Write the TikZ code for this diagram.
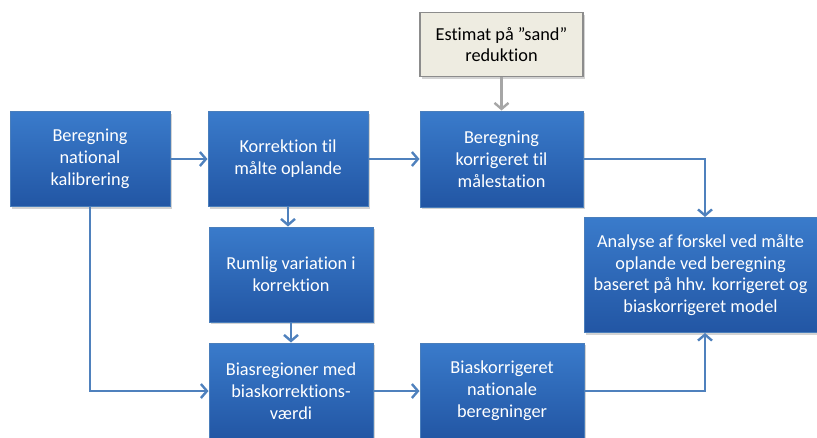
\documentclass[tikz,border=0pt]{standalone}
\usepackage{fontspec}
\setmainfont[Ligatures=NoCommon]{Carlito}
\usetikzlibrary{arrows.meta,shadows}
\definecolor{boxtop}{HTML}{3A7BCB}
\definecolor{boxbot}{HTML}{2256A4}
\definecolor{boxedge}{HTML}{4A7EBB}
\definecolor{arrowblue}{HTML}{4F81BD}
\definecolor{beige}{HTML}{EEECE1}
\definecolor{beigeedge}{HTML}{8C8C8C}
\definecolor{arrowgrey}{HTML}{A6A6A6}
\tikzset{
  bluebox/.style={draw=boxedge, line width=1pt, top color=boxtop, bottom color=boxbot,
    text=white, align=center, font=\fontsize{18.3}{21.8}\selectfont, inner sep=2pt,
    drop shadow={opacity=0.35, shadow xshift=1.5pt, shadow yshift=-2pt}},
  beigebox/.style={draw=beigeedge, line width=1.2pt, fill=beige,
    text=black, align=center, font=\fontsize{18.3}{21.8}\selectfont, inner sep=2pt,
    drop shadow={opacity=0.35, shadow xshift=1.5pt, shadow yshift=-2pt}},
  flow/.style={draw=arrowblue, line width=2.6pt, -{Straight Barb[length=6pt,width=14pt,line width=2.4pt]}},
  greyflow/.style={draw=arrowgrey, line width=2.6pt, -{Straight Barb[length=6pt,width=14pt,line width=2.4pt]}}
}
\begin{document}
\begin{tikzpicture}[x=1pt,y=-1pt]
\useasboundingbox (0,0) rectangle (817,437);
\node[bluebox, minimum width=160pt, minimum height=95pt] (A) at (90,159) {Beregning\\national\\kalibrering};
\node[bluebox, minimum width=160pt, minimum height=95pt] (B) at (288,159) {Korrektion til\\målte oplande};
\node[beigebox, minimum width=163pt, minimum height=64pt] (C) at (501.5,44.5) {Estimat på ”sand”\\reduktion};
\node[bluebox, minimum width=163pt, minimum height=96pt] (D) at (501.5,159) {Beregning\\korrigeret til\\målestation};
\node[bluebox, minimum width=164pt, minimum height=95pt] (E) at (291,274.5) {Rumlig variation i\\korrektion};
\node[bluebox, minimum width=164pt, minimum height=96pt] (F) at (291,391) {Biasregioner med\\biaskorrektions-\\værdi};
\node[bluebox, minimum width=164pt, minimum height=96pt] (G) at (502,391) {Biaskorrigeret\\nationale\\beregninger};
\node[bluebox, minimum width=233pt, minimum height=115pt] (H) at (700.5,275) {Analyse af forskel ved målte\\oplande ved beregning\\baseret på hhv. korrigeret og\\biaskorrigeret model};
\coordinate (Htop) at ([xshift=4.5pt]H.north);
\coordinate (Hbot) at ([xshift=4.5pt]H.south);
\draw[flow] (A.east) -- (B.west);
\draw[flow] (B.east) -- (D.west);
\draw[flow] (B.south) -- (B.south |- E.north);
\draw[greyflow] (C.south) -- (D.north);
\draw[flow] (E.south) -- (F.north);
\draw[flow] (A.south) |- (F.west);
\draw[flow] (F.east) -- (G.west);
\draw[flow] (D.east) -| (Htop);
\draw[flow] (G.east) -| (Hbot);
\end{tikzpicture}
\end{document}
